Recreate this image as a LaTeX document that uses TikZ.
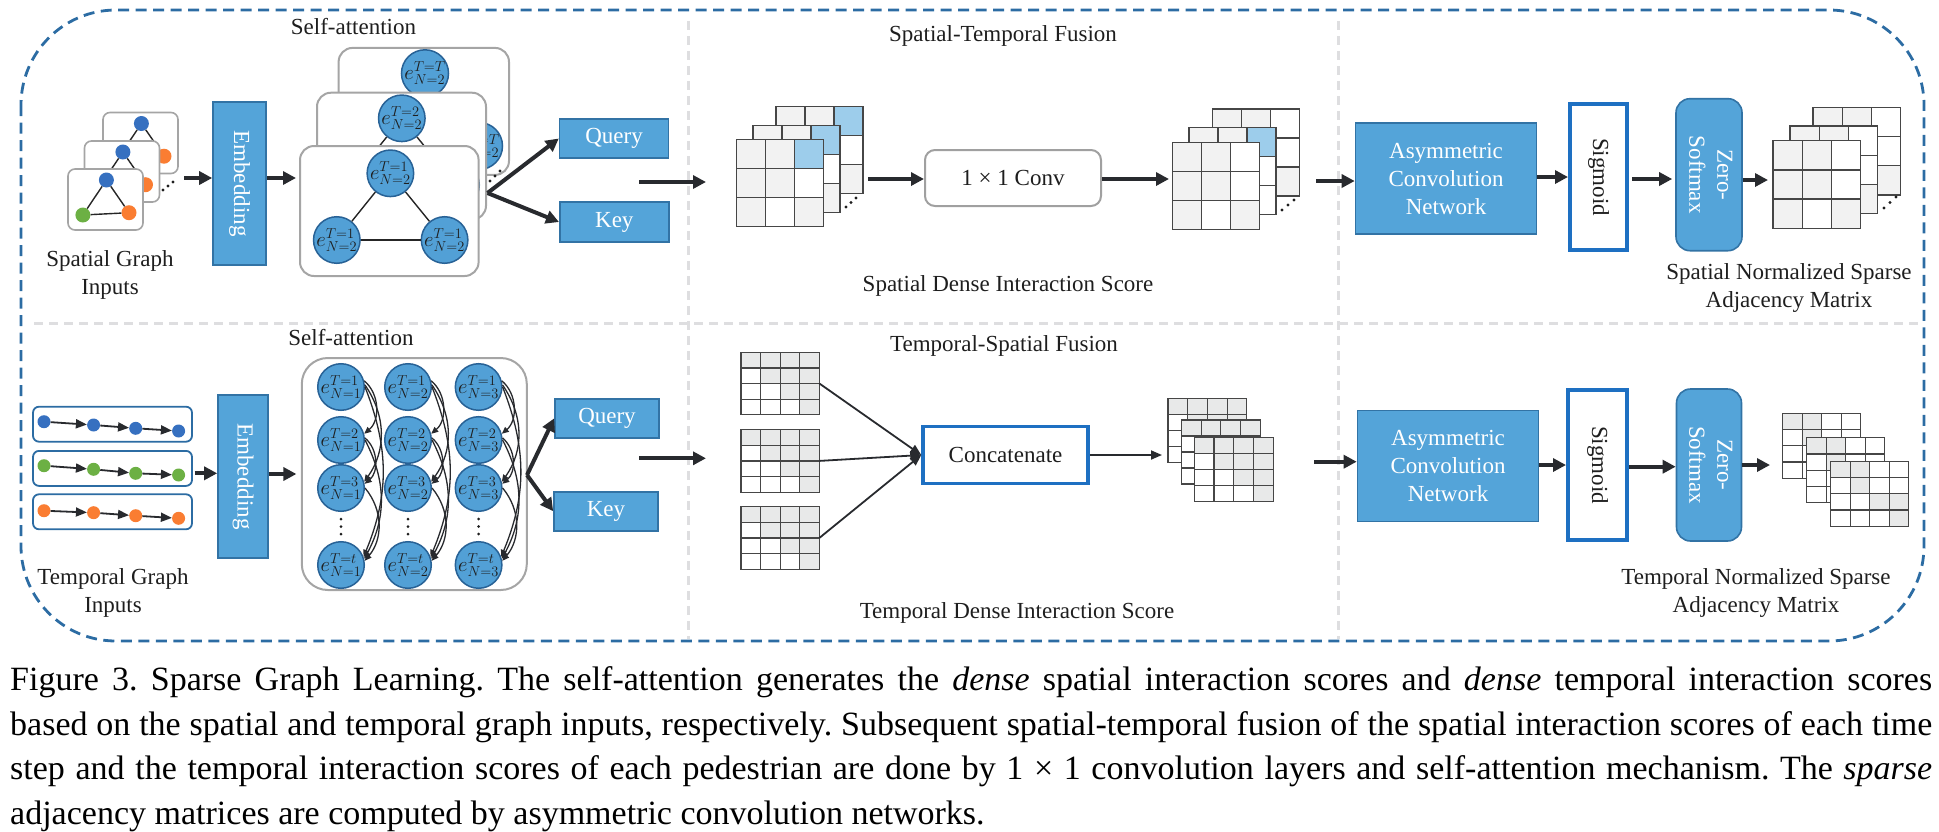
\documentclass[tikz,border=0pt]{standalone}
\usepackage{fontspec}
\setmainfont{Liberation Serif}
\usepackage{graphicx}
\usetikzlibrary{arrows.meta,calc}
\frenchspacing
\definecolor{bluefill}{RGB}{84,164,217}
\definecolor{blueedge}{RGB}{50,115,165}
\definecolor{nodefill}{RGB}{82,160,214}
\definecolor{nodeedge}{RGB}{40,98,150}
\definecolor{strongblue}{RGB}{30,112,194}
\definecolor{framecol}{RGB}{44,108,163}
\definecolor{divcol}{RGB}{222,222,224}
\definecolor{cardcol}{RGB}{165,165,165}
\definecolor{convcol}{RGB}{160,160,160}
\definecolor{arrowcol}{RGB}{40,42,46}
\definecolor{gridcol}{RGB}{70,70,70}
\definecolor{mG}{RGB}{242,242,242}
\definecolor{mD}{RGB}{232,233,233}
\definecolor{mW}{RGB}{255,255,255}
\definecolor{mB}{RGB}{157,205,235}
\definecolor{gblue}{RGB}{54,112,192}
\definecolor{gorange}{RGB}{250,125,50}
\definecolor{ggreen}{RGB}{108,176,68}
\definecolor{txt}{RGB}{30,30,30}
\newcommand{\bxfont}{\fontsize{23}{28}\selectfont}
\newcommand{\mlabfont}{\fontsize{22}{22}\selectfont}
\newcommand{\tlabfont}{\fontsize{20}{20}\selectfont}
\newcommand{\capfont}{\fontsize{34}{44.5}\selectfont}
% #1 name, #2 x, #3 y (top left), #4 cell w, #5 cell h, #6 n cells, #7 rows of colours
\newcommand{\gridmat}[7]{%
  \foreach \rw [count=\ri] in {#7} {%
    \foreach \cl [count=\ci] in \rw {%
      \draw[matcell, fill=\cl] ({#2+(\ci-1)*#4},{#3+(\ri-1)*#5}) rectangle ++(#4,#5);
    }%
  }%
  \node[inner sep=0pt, outer sep=0pt, minimum width={#6*#4}, minimum height={#6*#5}, anchor=north west] (#1) at (#2,#3) {};%
}
\begin{document}
\begin{tikzpicture}[x=1pt,y=-1pt,
  big/.style={draw=arrowcol, line width=4pt, -{Triangle[length=13pt,width=13pt]}},
  thinarr/.style={draw=arrowcol, line width=1.8pt, -{Triangle[length=11pt,width=9pt]}},
  carr/.style={draw=arrowcol, line width=1.3pt, -{Triangle[length=7pt,width=6pt]}},
  bluebox/.style={draw=blueedge, line width=1.6pt, fill=bluefill, text=white, font=\bxfont, inner sep=0pt, align=center},
  strongbox/.style={draw=strongblue, line width=4pt, fill=white, text=txt, font=\bxfont, inner sep=0pt, align=center},
  card/.style={draw=cardcol, line width=2pt, fill=white, rounded corners=14pt, inner sep=0pt},
  incard/.style={draw=cardcol, line width=1.6pt, fill=white, rounded corners=7pt, inner sep=0pt, minimum width=75pt, minimum height=61pt},
  rowbox/.style={draw=framecol, line width=1.8pt, fill=white, rounded corners=6pt, inner sep=0pt, minimum width=159pt, minimum height=35pt},
  enode/.style={circle, draw=nodeedge, line width=1.5pt, fill=nodefill, inner sep=0pt, minimum size=44pt, font=\mlabfont, text=txt},
  tnode/.style={circle, draw=nodeedge, line width=1.5pt, fill=nodefill, inner sep=0pt, minimum size=40pt, font=\tlabfont, text=txt},
  gdot/.style={circle, inner sep=0pt, minimum size=15pt},
  sdot/.style={circle, inner sep=0pt, minimum size=13pt},
  gedge/.style={draw=black!85, line width=1.4pt},
  lab/.style={font=\bxfont, text=txt, inner sep=0pt},
  divider/.style={draw=divcol, line width=3pt, dash pattern=on 9pt off 6pt},
  matcell/.style={draw=gridcol, line width=1.4pt},
]
\useasboundingbox (0,0) rectangle (1939,831);

% frame and dividers
\draw[framecol, line width=2.8pt, dash pattern=on 11pt off 6.5pt, rounded corners=95pt] (21,10) rectangle (1924,641);
\draw[divider] (688,21) -- (688,639);
\draw[divider] (1338,21) -- (1338,639);
\draw[divider] (34,323) -- (1922,323);

% labels
\node[lab, anchor=base] (lsa1) at (353.5,34) {Self-attention};
\node[lab, anchor=base] (lstf) at (1003,41) {Spatial-Temporal Fusion};
\node[lab, anchor=base] (lsdis) at (1008,291) {Spatial Dense Interaction Score};
\node[lab, anchor=north, align=center] (lsgi) at (110,250) {Spatial Graph\\Inputs};
\node[lab, anchor=north, align=center] (lsn) at (1789,263) {Spatial Normalized Sparse\\Adjacency Matrix};
\node[lab, anchor=base] (lsa2) at (351,345) {Self-attention};
\node[lab, anchor=base] (ltsf) at (1004,351) {Temporal-Spatial Fusion};
\node[lab, anchor=base] (ltdis) at (1017,618) {Temporal Dense Interaction Score};
\node[lab, anchor=north, align=center] (ltgi) at (113,568) {Temporal Graph\\Inputs};
\node[lab, anchor=north, align=center] (ltn) at (1756,568) {Temporal Normalized Sparse\\Adjacency Matrix};

% ---------- spatial graph inputs
\foreach \n/\cx/\cy in {c/140.5/143, b/122/171.5, a/105.5/199.5} {
  \node[incard] (in\n) at (\cx,\cy) {};
  \node[gdot, fill=gblue] (g\n1) at (\cx+0.9,\cy-19.5) {};
  \node[gdot, fill=ggreen] (g\n2) at (\cx-22.6,\cy+15.5) {};
  \node[gdot, fill=gorange] (g\n3) at (\cx+23.5,\cy+13.2) {};
  \draw[gedge] (g\n1) -- (g\n2);
  \draw[gedge] (g\n2) -- (g\n3);
  \draw[gedge] (g\n3) -- (g\n1);
}
\fill[txt] (163,190) circle (1.7pt) (168,186) circle (1.7pt) (173,182) circle (1.7pt);

\node[bluebox, minimum width=53pt, minimum height=163pt] (emb1) at (239.5,183.5) {\rotatebox{-90}{Embedding}};
\coordinate (a1) at (184,178);
\draw[big] (a1) -- (a1 -| emb1.west);
\coordinate (a2) at (296,178);
\draw[big] (a2 -| emb1.east) -- (a2);

% ---------- spatial self-attention cards
\node[card, minimum width=170.4pt, minimum height=127pt] (sab) at (423.8,111.4) {};
\node[enode] (sab1) at (425,73.3) {$e^{T=T}_{N=2}$};
\node[enode] (sab2) at (371,146) {$e^{T=T}_{N=2}$};
\node[enode] (sab3) at (479,146) {$e^{T=T}_{N=2}$};
\draw[gedge] (sab1) -- (sab2); \draw[gedge] (sab2) -- (sab3); \draw[gedge] (sab3) -- (sab1);

\node[card, minimum width=169pt, minimum height=127pt] (sam) at (401.5,156.2) {};
\node[enode] (sam1) at (401.8,118.3) {$e^{T=2}_{N=2}$};
\node[enode] (sam2) at (348,185) {$e^{T=2}_{N=2}$};
\node[enode] (sam3) at (456,185) {$e^{T=2}_{N=2}$};
\draw[gedge] (sam1) -- (sam2); \draw[gedge] (sam2) -- (sam3); \draw[gedge] (sam3) -- (sam1);

\node[card, minimum width=178.6pt, minimum height=130pt] (saf) at (389.3,211) {};
\node[enode] (saf1) at (390.4,173.3) {$e^{T=1}_{N=2}$};
\node[enode] (saf2) at (336.8,240) {$e^{T=1}_{N=2}$};
\node[enode] (saf3) at (444.6,240) {$e^{T=1}_{N=2}$};
\draw[gedge] (saf1) -- (saf2); \draw[gedge] (saf2) -- (saf3); \draw[gedge] (saf3) -- (saf1);
\fill[txt] (490,181) circle (1.7pt) (495,176) circle (1.7pt) (500,171) circle (1.7pt);

\node[bluebox, minimum width=109pt, minimum height=39pt] (q1) at (614.1,138.5) {Query};
\node[bluebox, minimum width=109pt, minimum height=40pt] (k1) at (614.3,222) {Key};
\coordinate (sfork) at (487.5,193);
\draw[big] (sfork) -- (q1.west);
\draw[big] (sfork) -- (k1.west);
\coordinate (a5s) at (639,182);
\coordinate (a5e) at (706,182);
\draw[big] (a5s) -- (a5e);

% ---------- spatial-temporal fusion
\gridmat{maC}{776}{106.7}{29}{29}{3}{{mG,mG,mB},{mG,mG,mW},{mG,mG,mG}}
\gridmat{maB}{753}{125.3}{29}{29}{3}{{mG,mG,mB},{mG,mG,mW},{mG,mW,mG}}
\gridmat{maA}{736.4}{139.3}{29}{29}{3}{{mG,mG,mB},{mG,mG,mW},{mG,mW,mG}}
\fill[txt] (846,207) circle (1.7pt) (851,202.5) circle (1.7pt) (856,198) circle (1.7pt);

\node[draw=convcol, line width=2pt, rounded corners=10pt, fill=white, minimum width=176pt, minimum height=56pt, font=\bxfont, text=txt, inner sep=0pt] (conv) at (1013,178) {1 × 1 Conv};
\coordinate (a6) at (868,179);
\draw[big] (a6) -- (a6 -| conv.west);
\coordinate (a7) at (1169,179);
\draw[big] (a7 -| conv.east) -- (a7);

\gridmat{mbC}{1212.5}{109}{29}{29}{3}{{mG,mG,mW},{mG,mG,mW},{mG,mG,mG}}
\gridmat{mbB}{1189}{127.7}{29}{29}{3}{{mG,mG,mB},{mG,mG,mW},{mG,mW,mW}}
\gridmat{mbA}{1172.5}{142.7}{29}{29}{3}{{mG,mG,mW},{mG,mG,mW},{mG,mW,mG}}
\fill[txt] (1282,210) circle (1.7pt) (1288,205) circle (1.7pt) (1294,200) circle (1.7pt);

% ---------- spatial sparse
\node[bluebox, minimum width=181pt, minimum height=111pt] (asym1) at (1446,178.7) {Asymmetric\\Convolution\\Network};
\node[strongbox, minimum width=57pt, minimum height=146pt] (sig1) at (1598.5,177) {\rotatebox{-90}{Sigmoid}};
\node[bluebox, rounded corners=14pt, minimum width=66pt, minimum height=152pt] (zs1) at (1709,174.7) {\rotatebox{-90}{\begin{tabular}{@{}c@{}}Zero-\\Softmax\end{tabular}}};
\coordinate (a8) at (1316,181);
\draw[big] (a8) -- (a8 -| asym1.west);
\coordinate (a9) at (0,177);
\draw[big] (a9 -| asym1.east) -- (a9 -| sig1.west);
\coordinate (a10) at (0,179);
\draw[big, shorten <=3pt, shorten >=3pt] (a10 -| sig1.east) -- (a10 -| zs1.west);
\coordinate (a11) at (1768,180);
\draw[big] (a11 -| zs1.east) -- (a11);

\gridmat{mcC}{1813}{107.3}{29.2}{29.2}{3}{{mG,mG,mW},{mG,mG,mW},{mG,mG,mG}}
\gridmat{mcB}{1790}{126}{29.2}{29.2}{3}{{mG,mG,mW},{mG,mG,mW},{mG,mW,mG}}
\gridmat{mcA}{1773}{140.7}{29.2}{29.2}{3}{{mG,mG,mW},{mG,mG,mW},{mG,mW,mG}}
\fill[txt] (1884,208) circle (1.7pt) (1890,202.5) circle (1.7pt) (1896,197) circle (1.7pt);

% ---------- temporal graph inputs
\foreach \r/\col/\yc/\ya/\yb/\ycc/\yd in {1/gblue/424.2/421.7/425/428.3/431, 2/ggreen/468.4/465.7/469.3/473.3/475, 3/gorange/511.8/510.7/512.7/515.7/518.3} {
  \node[rowbox] (row\r) at (112.5,\yc) {};
  \node[sdot, fill=\col] (d\r1) at (44,\ya) {};
  \node[sdot, fill=\col] (d\r2) at (93.6,\yb) {};
  \node[sdot, fill=\col] (d\r3) at (135.7,\ycc) {};
  \node[sdot, fill=\col] (d\r4) at (178.6,\yd) {};
  \draw[thinarr] (d\r1) -- (d\r2);
  \draw[thinarr] (d\r2) -- (d\r3);
  \draw[thinarr] (d\r3) -- (d\r4);
}

\node[bluebox, minimum width=50pt, minimum height=163pt] (emb2) at (243,476.5) {\rotatebox{-90}{Embedding}};
\coordinate (b2) at (194.6,473.3);
\draw[big] (b2) -- (b2 -| emb2.west);
\coordinate (b3) at (296.4,474);
\draw[big] (b3 -| emb2.east) -- (b3);

% ---------- temporal self-attention
\node[card, rounded corners=26pt, minimum width=225pt, minimum height=232pt] (tbox) at (414.3,474) {};
\foreach \c/\x in {1/341,2/408,3/478.6} {
  \foreach \r/\y/\s in {1/387/1, 2/440/2, 3/488/3, 4/565/t} {
    \node[tnode] (t\c\r) at (\x,\y) {$e^{T=\s}_{N=\c}$};
  }
  \fill[txt] (\x,519) circle (1.5pt) (\x,526.5) circle (1.5pt) (\x,534) circle (1.5pt);
}
\foreach \c in {1,2,3} {
  \draw[carr] (t\c1.15) to[bend left=50] (t\c2.15);
  \draw[carr] (t\c1.5) to[bend left=35] (t\c3.15);
  \draw[carr] (t\c1.0) to[bend left=22] (t\c4.20);
  \draw[carr] (t\c2.5) to[bend left=50] (t\c3.10);
  \draw[carr] (t\c2.0) to[bend left=28] (t\c4.15);
  \draw[carr] (t\c3.0) to[bend left=40] (t\c4.10);
}

\node[bluebox, minimum width=104pt, minimum height=39pt] (q2) at (607,418.3) {Query};
\node[bluebox, minimum width=104pt, minimum height=39pt] (k2) at (606,511.2) {Key};
\coordinate (tfork) at (527,475);
\draw[big] (tfork) -- (q2.west);
\draw[big] (tfork) -- (k2.west);
\coordinate (b6s) at (639,458.3);
\coordinate (b6e) at (706,458.3);
\draw[big] (b6s) -- (b6e);

% ---------- temporal-spatial fusion
\begin{scope}[matcell/.style={draw=gridcol, line width=1.2pt}]
\gridmat{md1}{741}{352.3}{19.6}{15.6}{4}{{mD,mD,mD,mD},{mW,mD,mD,mD},{mW,mW,mD,mD},{mW,mW,mW,mD}}
\gridmat{md2}{741}{429.7}{19.6}{15.6}{4}{{mD,mD,mD,mD},{mW,mD,mD,mD},{mW,mW,mD,mD},{mW,mW,mW,mD}}
\gridmat{md3}{741}{506.7}{19.6}{15.6}{4}{{mD,mD,mD,mD},{mW,mD,mD,mD},{mW,mW,mD,mD},{mW,mW,mW,mD}}
\end{scope}
\node[strongbox, line width=3.5pt, minimum width=165pt, minimum height=56.6pt] (cat) at (1005.5,455) {Concatenate};
\draw[thinarr] (md1.east) -- (cat.west);
\draw[thinarr] (md2.east) -- (cat.west);
\draw[thinarr] (md3.east) -- (cat.west);
\coordinate (b8) at (1162,455);
\draw[thinarr] (cat.east) -- (b8);

\begin{scope}[matcell/.style={draw=gridcol, line width=1.2pt}]
\gridmat{me3}{1168}{398.3}{19.7}{16}{4}{{mD,mD,mD,mD},{mW,mD,mD,mD},{mW,mW,mD,mD},{mW,mW,mW,mD}}
\gridmat{me2}{1181.4}{420}{19.7}{16}{4}{{mD,mD,mD,mD},{mW,mD,mD,mD},{mW,mW,mD,mD},{mW,mW,mW,mD}}
\gridmat{me1}{1194.3}{437.7}{19.7}{16}{4}{{mD,mD,mD,mD},{mW,mD,mD,mD},{mW,mW,mD,mD},{mW,mW,mW,mD}}
\end{scope}

% ---------- temporal sparse
\node[bluebox, minimum width=181pt, minimum height=111pt] (asym2) at (1448,466) {Asymmetric\\Convolution\\Network};
\node[strongbox, minimum width=59pt, minimum height=150pt] (sig2) at (1597.5,465) {\rotatebox{-90}{Sigmoid}};
\node[bluebox, rounded corners=14pt, minimum width=65pt, minimum height=152pt] (zs2) at (1709,465) {\rotatebox{-90}{\begin{tabular}{@{}c@{}}Zero-\\Softmax\end{tabular}}};
\coordinate (b9) at (1314,461.7);
\draw[big] (b9) -- (b9 -| asym2.west);
\coordinate (b10) at (0,465);
\draw[big] (b10 -| asym2.east) -- (b10 -| sig2.west);
\coordinate (b11) at (0,466.7);
\draw[big] (b11 -| sig2.east) -- (b11 -| zs2.west);
\coordinate (b12) at (1770,465);
\draw[big] (b12 -| zs2.east) -- (b12);

\begin{scope}[matcell/.style={draw=gridcol, line width=1.2pt}]
\gridmat{mf3}{1782.7}{413.3}{19.5}{16.25}{4}{{mD,mD,mW,mW},{mW,mD,mW,mW},{mW,mW,mD,mD},{mW,mW,mW,mD}}
\gridmat{mf2}{1806.7}{437.7}{19.5}{16.25}{4}{{mD,mD,mW,mW},{mW,mD,mW,mW},{mW,mW,mD,mD},{mW,mW,mW,mD}}
\gridmat{mf1}{1830.7}{461.3}{19.5}{16.25}{4}{{mD,mD,mW,mW},{mW,mD,mW,mW},{mW,mW,mD,mD},{mW,mW,mW,mD}}
\end{scope}

% ---------- caption
\node[anchor=north west, inner sep=0pt, font=\capfont, text=black] (cap) at (10,666.5) {\vbox{\frenchspacing%
\hbox to 1922pt{Figure 3. Sparse Graph Learning. The self-attention generates the \textit{dense} spatial interaction scores and \textit{dense} temporal interaction scores}%
\hbox to 1922pt{based on the spatial and temporal graph inputs, respectively. Subsequent spatial-temporal fusion of the spatial interaction scores of each time}%
\hbox to 1922pt{step and the temporal interaction scores of each pedestrian are done by 1 × 1 convolution layers and self-attention mechanism. The \textit{sparse}}%
\hbox{adjacency matrices are computed by asymmetric convolution networks.}}};
\end{tikzpicture}
\end{document}
